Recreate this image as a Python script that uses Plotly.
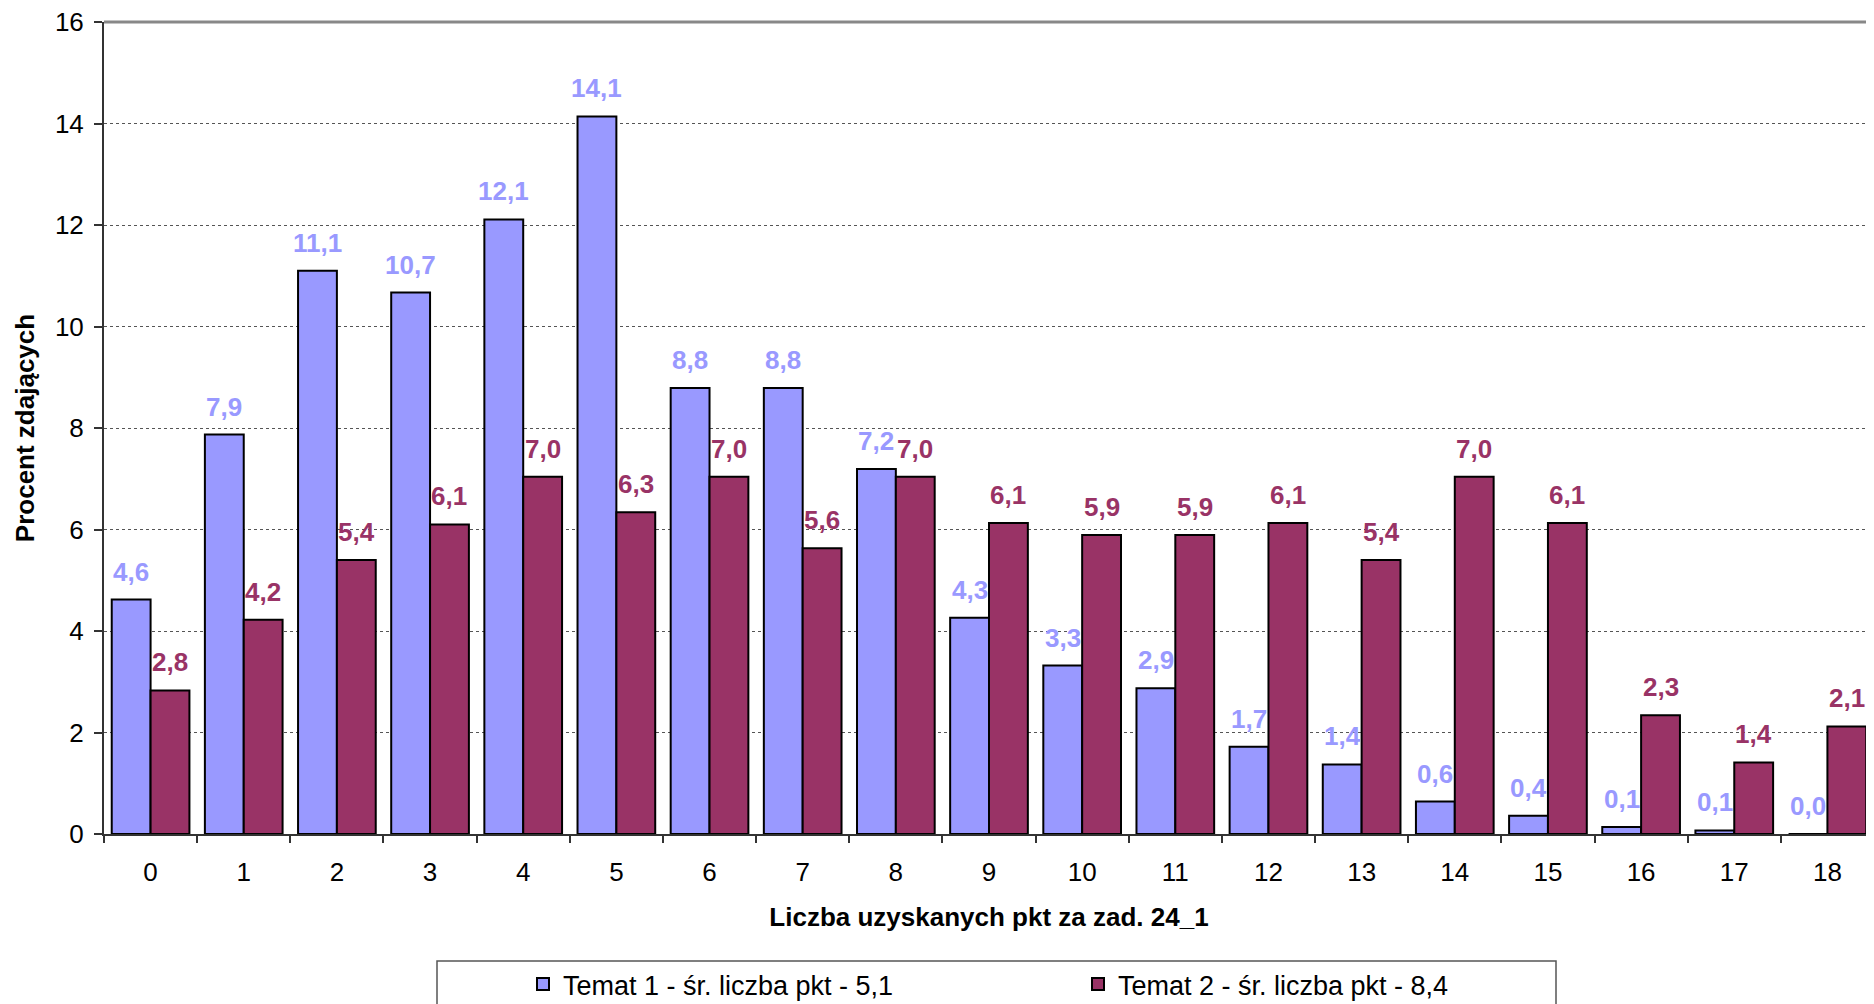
import plotly.graph_objects as go

categories = [str(i) for i in range(19)]
temat1 = [4.62, 7.87, 11.1, 10.67, 12.11, 14.14, 8.79, 8.79, 7.19, 4.26, 3.32, 2.87,
          1.72, 1.37, 0.64, 0.36, 0.14, 0.07, 0.0]
temat2 = [2.83, 4.22, 5.4, 6.1, 7.04, 6.34, 7.04, 5.63, 7.04, 6.13, 5.89, 5.89,
          6.13, 5.4, 7.04, 6.13, 2.34, 1.41, 2.12]
name1 = "Temat 1 - śr. liczba pkt - 5,1"
name2 = "Temat 2 - śr. liczba pkt - 8,4"
x_title = "Liczba uzyskanych pkt za zad. 24_1"
y_title = "Procent zdających"
y_ticks = [0, 2, 4, 6, 8, 10, 12, 14, 16]

C1 = "#9999FF"
C2 = "#993366"
FONT = "Liberation Sans, Arial, sans-serif"
FS = 26

# the page body has an 8px margin; target pixel positions are compensated by OFF
OFF = 8
W, H = 1874 - OFF, 1004 - OFF
ML, MT, MR = 104 - OFF, 22 - OFF, 0
MB = H - (834 - OFF)
plot_w = W - ML - MR
plot_h = H - MT - MB

fig = go.Figure()
fig.add_bar(x=categories, y=temat1, name=name1, marker=dict(color=C1, line=dict(color="black", width=2)))
fig.add_bar(x=categories, y=temat2, name=name2, marker=dict(color=C2, line=dict(color="black", width=2)))

cat_px = plot_w / len(categories)
bargap = 0.166
half = cat_px * (1 - bargap) / 4

def fmt(v):
    return f"{v:.1f}".replace(".", ",")

annotations = []
for c, v1, v2 in zip(categories, temat1, temat2):
    for v, col, sh in ((v1, C1, -half), (v2, C2, half)):
        annotations.append(dict(
            x=c, y=v, xref="x", yref="y", text=fmt(v), showarrow=False,
            xanchor="center", yanchor="middle", xshift=sh, yshift=28,
            font=dict(family=FONT, size=FS, color=col, weight="bold"),
        ))

def py(target_y):
    return (H - MB - (target_y - OFF)) / plot_h

def px(target_x):
    return ((target_x - OFF) - ML) / plot_w

fig.update_layout(
    width=W, height=H,
    margin=dict(l=ML, r=MR, t=MT, b=MB, autoexpand=False),
    paper_bgcolor="white", plot_bgcolor="white",
    barmode="group", bargap=bargap, bargroupgap=0,
    font=dict(family=FONT, size=FS, color="black"),
    showlegend=True,
    legend=dict(
        orientation="h", x=px(523), xanchor="left",
        y=py(960), yanchor="top", bgcolor="rgba(0,0,0,0)", borderwidth=0,
        entrywidth=510, entrywidthmode="pixels", itemwidth=30,
        font=dict(family=FONT, size=27, color="black"),
    ),
    annotations=annotations,
    shapes=[
        dict(type="line", xref="paper", yref="paper", x0=0, x1=1, y0=1, y1=1,
             line=dict(color="#888888", width=3)),
        dict(type="rect", xref="paper", yref="paper",
             x0=px(437), x1=px(1556), y0=py(1012), y1=py(961),
             line=dict(color="#555555", width=1.5)),
    ],
)

fig.update_xaxes(
    type="category", range=[-0.5, len(categories) - 0.5], automargin=False,
    showline=True, linecolor="#333333", linewidth=2,
    ticks="outside", tickson="boundaries", ticklen=7, tickcolor="#333333", tickwidth=1.5,
    ticklabelstandoff=14, ticklabeloverflow="allow",
    showgrid=False, zeroline=False,
    tickfont=dict(family=FONT, size=FS, color="black"),
    title=dict(text=x_title, font=dict(family=FONT, size=FS, color="black", weight="bold"), standoff=22),
)
fig.update_yaxes(
    range=[0, 16], tickvals=y_ticks, ticktext=[str(t) for t in y_ticks], automargin=False,
    showline=True, linecolor="#333333", linewidth=2,
    ticks="outside", ticklen=8, tickcolor="#333333", tickwidth=1.5,
    ticklabelstandoff=5, ticklabeloverflow="allow",
    showgrid=True, gridcolor="#555555", gridwidth=1, griddash="dot",
    zeroline=False,
    tickfont=dict(family=FONT, size=FS, color="black"),
    title=dict(text=y_title, font=dict(family=FONT, size=FS, color="black", weight="bold"), standoff=13),
)

fig.write_html("out.html")
